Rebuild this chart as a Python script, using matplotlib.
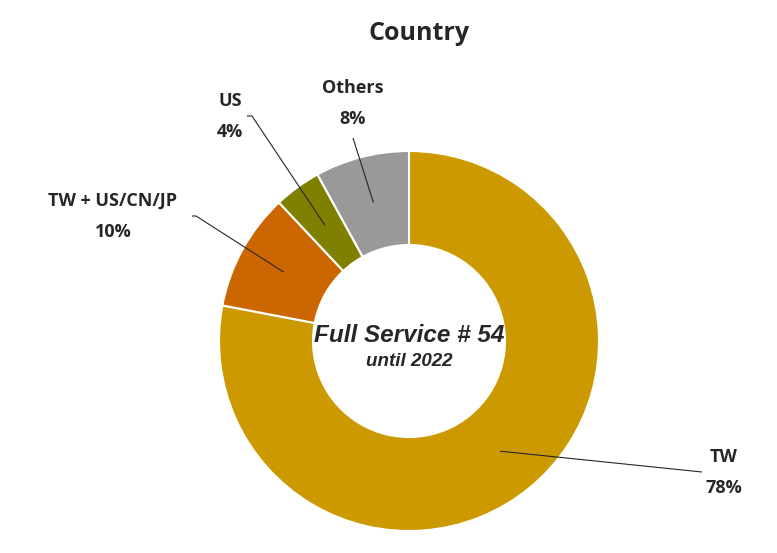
import numpy as np
import matplotlib
matplotlib.use("Agg")
import matplotlib.pyplot as plt

categories = ["TW", "TW + US/CN/JP", "US", "Others"]
values = [78, 10, 4, 8]
colors = ["#CC9900", "#CC6600", "#808000", "#999999"]
title = "Country"
center_line1 = "Full Service # 54"
center_line2 = "until 2022"

W, H = 777, 553
fig = plt.figure(figsize=(W / 100, H / 100), dpi=100)
ax = fig.add_axes([0, 0, 1, 1])

cx, cy = 409, H - 341
R = 190
ring = 94

wedges, _ = ax.pie(values, colors=colors, startangle=90, counterclock=False,
                   radius=R, center=(cx, cy), frame=True,
                   wedgeprops=dict(width=ring, edgecolor="white", linewidth=1.5))
ax.set_xlim(0, W)
ax.set_ylim(0, H)
ax.set_aspect("equal")
ax.axis("off")

lab_font = ["Open Sans", "DejaVu Sans"]
label_pos = [(724, 457), (113, 201), (230, 101), (353, 88)]
line_end = [[(702, 472)], [(192, 216), (196, 216)], [(247, 116), (252, 116)], [(353, 138)]]

rmid = R - ring / 2
for w, (lx, ly), ends, cat, v in zip(wedges, label_pos, line_end, categories, values):
    ang = np.deg2rad((w.theta1 + w.theta2) / 2)
    ax_ = cx + rmid * np.cos(ang)
    ay_ = cy + rmid * np.sin(ang)
    pts = [(ax_, ay_)] + [(x, H - y) for x, y in reversed(ends)]
    xs, ys = zip(*pts)
    ax.plot(xs, ys, color="#262626", lw=0.8, solid_capstyle="butt")
    ax.text(lx, H - ly, cat, ha="center", va="center", fontsize=13,
            family=lab_font, weight="bold", color="#262626")
    ax.text(lx, H - ly - 31, f"{v}%", ha="center", va="center", fontsize=13,
            family=lab_font, weight="bold", color="#262626")

ax.text(419, H - 33, title, ha="center", va="center", fontsize=18,
        family=lab_font, weight="bold", color="#262626")
ax.text(cx, H - 336, center_line1, ha="center", va="center", fontsize=17.5,
        family="Liberation Sans", weight="bold", style="italic", color="#262626")
ax.text(cx, H - 362, center_line2, ha="center", va="center", fontsize=13.5,
        family="Liberation Sans", weight="bold", style="italic", color="#262626")

fig.savefig("out.png", dpi=100, facecolor="white")
